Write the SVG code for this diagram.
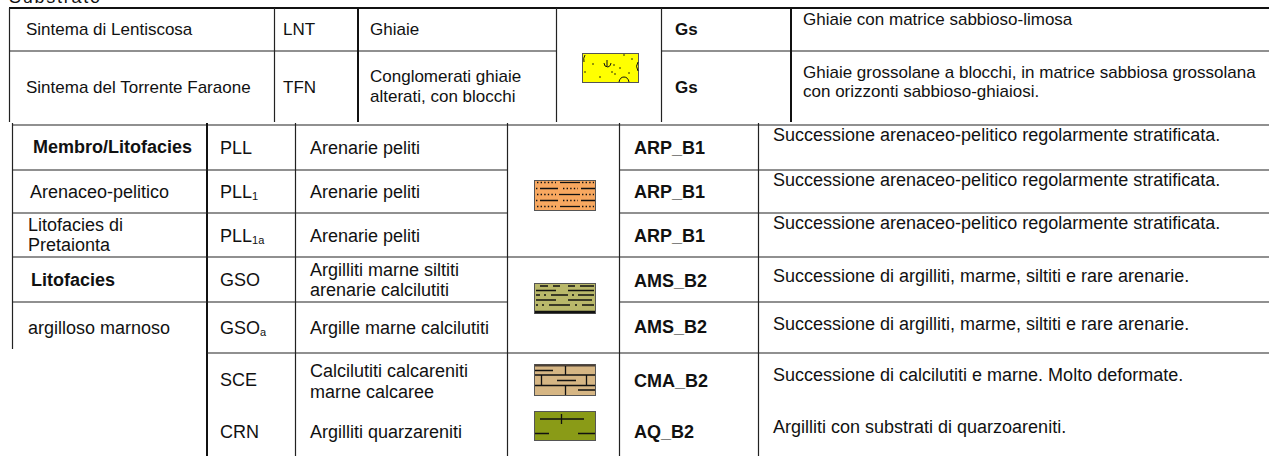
<svg xmlns="http://www.w3.org/2000/svg" width="1269" height="456" viewBox="0 0 1269 456">
<style>
.t{font-family:"Liberation Sans",Arial,sans-serif;font-size:18px;fill:#111}
.s{font-size:17px}
.b{font-weight:bold}
.ln{stroke:#222;stroke-width:1.2;fill:none}
.th{stroke:#111;stroke-width:2;fill:none}
.sw{stroke:#555;stroke-width:1}
.pk{stroke:#111;fill:none}
</style>
<rect width="1269" height="456" fill="#fff"/>
<text class="t" x="9" y="3" font-size="20" textLength="91" lengthAdjust="spacing">Substrato</text>

<g id="grid">
  <!-- top table -->
  <line class="th" x1="9" y1="8" x2="1269" y2="8"/>
  <line class="ln" x1="9" y1="51" x2="556" y2="51"/>
  <line class="ln" x1="661" y1="51" x2="1269" y2="51" stroke-width="1.6"/>
  <line class="ln" x1="9.5" y1="8" x2="9.5" y2="122"/>
  <line class="ln" x1="274.5" y1="8" x2="274.5" y2="122"/>
  <line class="th" x1="358" y1="8" x2="358" y2="122"/>
  <line class="ln" x1="556.5" y1="8" x2="556.5" y2="122"/>
  <line class="ln" x1="661.5" y1="8" x2="661.5" y2="122"/>
  <line class="th" x1="791" y1="8" x2="791" y2="122"/>
  <!-- bottom table -->
  <line class="ln" x1="12" y1="125" x2="1269" y2="125" stroke-width="1.5"/>
  <line class="ln" x1="12.5" y1="123" x2="12.5" y2="349"/>
  <line class="th" x1="207" y1="123" x2="207" y2="456"/>
  <line class="ln" x1="295.5" y1="123" x2="295.5" y2="456"/>
  <line class="ln" x1="507.5" y1="123" x2="507.5" y2="456"/>
  <line class="ln" x1="619.5" y1="123" x2="619.5" y2="456"/>
  <line class="ln" x1="758.5" y1="123" x2="758.5" y2="456"/>
  <line class="ln" x1="12" y1="170" x2="507" y2="170" stroke-width="1.6"/>
  <line class="ln" x1="619" y1="170" x2="1269" y2="170" stroke-width="1.6"/>
  <line class="ln" x1="12" y1="213" x2="507" y2="213" stroke-width="1.6"/>
  <line class="ln" x1="619" y1="213" x2="1269" y2="213" stroke-width="1.6"/>
  <line class="ln" x1="12" y1="257" x2="1269" y2="257"/>
  <line class="ln" x1="12" y1="302" x2="507" y2="302"/>
  <line class="ln" x1="619" y1="302" x2="1269" y2="302"/>
  <line class="ln" x1="207" y1="353" x2="1269" y2="353"/>
</g>

<g id="row-LNT">
  <text class="t s" x="26" y="35">Sintema di Lentiscosa</text>
  <text class="t s" x="283" y="35">LNT</text>
  <text class="t s" x="370" y="35">Ghiaie</text>
  <text class="t s b" x="675" y="35">Gs</text>
  <text class="t s" x="803" y="25">Ghiaie con matrice sabbioso-limosa</text>
</g>
<g id="row-TFN">
  <text class="t s" x="26" y="93">Sintema del Torrente Faraone</text>
  <text class="t s" x="283" y="93">TFN</text>
  <text class="t s" x="370" y="82">Conglomerati ghiaie</text>
  <text class="t s" x="370" y="102">alterati, con blocchi</text>
  <text class="t s b" x="675" y="93">Gs</text>
  <text class="t s" x="803" y="78">Ghiaie grossolane a blocchi, in matrice sabbiosa grossolana</text>
  <text class="t s" x="803" y="97">con orizzonti sabbioso-ghiaiosi.</text>
</g>
<g id="swatch-Gs">
  <rect class="sw" x="582.5" y="53.5" width="56" height="29" fill="#ffff00"/>
  <g class="pk" stroke-width="1">
    <path d="M585,55 Q583,58 584,62"/>
    <path d="M607,60 L607,66 M604,63 Q604,67 608,67 Q611,66 611,63"/>
    <path d="M619,82 Q620,77 624,77 Q628,77 629,82"/>
    <path d="M638,62 Q635,66 638,71"/>
  </g>
  <g fill="#111">
    <circle cx="593" cy="64" r="0.8"/><circle cx="600" cy="77" r="0.8"/><circle cx="624" cy="55" r="0.8"/>
    <circle cx="620" cy="68" r="0.8"/><circle cx="612" cy="72" r="0.8"/><circle cx="615" cy="74" r="0.8"/>
    <circle cx="629" cy="73" r="0.8"/><circle cx="585" cy="72" r="0.8"/><circle cx="614" cy="65" r="0.8"/>
    <circle cx="632" cy="59" r="0.8"/>
  </g>
</g>

<g id="row-PLL">
  <text class="t b" x="33" y="153">Membro/Litofacies</text>
  <text class="t" x="220" y="154">PLL</text>
  <text class="t" x="310" y="154">Arenarie peliti</text>
  <text class="t b" x="634" y="154">ARP_B1</text>
  <text class="t" x="773" y="141">Successione arenaceo-pelitico regolarmente stratificata.</text>
</g>
<g id="row-PLL1">
  <text class="t" x="30" y="198">Arenaceo-pelitico</text>
  <text class="t" x="220" y="198">PLL<tspan font-size="11" dy="2">1</tspan></text>
  <text class="t" x="310" y="198">Arenarie peliti</text>
  <text class="t b" x="634" y="198">ARP_B1</text>
  <text class="t" x="773" y="186">Successione arenaceo-pelitico regolarmente stratificata.</text>
</g>
<g id="row-PLL1a">
  <text class="t" x="28" y="231">Litofacies di</text>
  <text class="t" x="28" y="251">Pretaionta</text>
  <text class="t" x="220" y="242">PLL<tspan font-size="11" dy="2">1a</tspan></text>
  <text class="t" x="310" y="242">Arenarie peliti</text>
  <text class="t b" x="634" y="242">ARP_B1</text>
  <text class="t" x="773" y="229">Successione arenaceo-pelitico regolarmente stratificata.</text>
</g>
<g id="swatch-ARP">
  <rect class="sw" x="534.5" y="180.5" width="61" height="30" fill="#f8a860"/>
  <g class="pk" stroke-width="1.3">
    <path d="M537,182.5 H556 M582,182.5 H594" stroke-dasharray="1.4 2.2"/>
    <path d="M560,182.5 H580"/>
    <path d="M540,188.5 H558 M581,188.5 H595"/>
    <path d="M563,188.5 H578 M536,188.5 H539" stroke-dasharray="1.4 2.2"/>
    <path d="M537,194.5 H556 M582,194.5 H594" stroke-dasharray="1.4 2.2"/>
    <path d="M559,194.5 H580"/>
    <path d="M540,200.5 H558 M581,200.5 H595"/>
    <path d="M563,200.5 H578 M536,200.5 H539" stroke-dasharray="1.4 2.2"/>
    <path d="M537,206.5 H556 M582,206.5 H594" stroke-dasharray="1.4 2.2"/>
    <path d="M560,206.5 H580"/>
  </g>
</g>

<g id="row-GSO">
  <text class="t b" x="31" y="286">Litofacies</text>
  <text class="t" x="220" y="286">GSO</text>
  <text class="t" x="310" y="276">Argilliti marne siltiti</text>
  <text class="t" x="310" y="296">arenarie calcilutiti</text>
  <text class="t b" x="634" y="287">AMS_B2</text>
  <text class="t" x="773" y="282">Successione di argilliti, marme, siltiti e rare arenarie.</text>
</g>
<g id="row-GSOa">
  <text class="t" x="28" y="334">argilloso marnoso</text>
  <text class="t" x="220" y="334">GSO<tspan font-size="11" dy="2">a</tspan></text>
  <text class="t" x="310" y="334">Argille marne calcilutiti</text>
  <text class="t b" x="634" y="333">AMS_B2</text>
  <text class="t" x="773" y="330">Successione di argilliti, marme, siltiti e rare arenarie.</text>
</g>
<g id="swatch-AMS">
  <rect class="sw" x="534.5" y="283.5" width="61" height="30" fill="#b9b86a"/>
  <g class="pk" stroke-width="1.3">
    <path d="M540,286 H548 M553,286 H560 M568,286 H575 M580,286 H594"/>
    <path d="M536,290.5 H556 M568,290.5 H594"/>
    <path d="M536,295 H540 M544,295 H546 M551,295 H568 M572,295 H574 M578,295 H594"/>
    <path d="M536,300 H556 M568,300 H592"/>
    <path d="M536,305 H538 M542,305 H544 M549,305 H570 M575,305 H577 M582,305 H594"/>
  </g>
  <path d="M535,312 H595" stroke="#111" stroke-width="2.5"/>
</g>

<g id="row-SCE">
  <text class="t" x="220" y="386">SCE</text>
  <text class="t" x="310" y="377">Calcilutiti calcareniti</text>
  <text class="t" x="310" y="398">marne calcaree</text>
  <text class="t b" x="634" y="387">CMA_B2</text>
  <text class="t" x="773" y="381">Successione di calcilutiti e marne. Molto deformate.</text>
</g>
<g id="swatch-CMA">
  <rect class="sw" x="534.5" y="364.5" width="61" height="31" fill="#d6b684" stroke="#333"/>
  <path d="M535,365.5 H595" stroke="#4a3f35" stroke-width="2"/>
  <g class="pk" stroke-width="1.3">
    <path d="M535,375 H595 M535,385.5 H595"/>
    <path d="M565.5,366 V375 M541.5,375 V385.5 M586.5,375 V385.5 M565.5,385.5 V395"/>
    <path d="M535,370.5 H553 M557,380.5 H576 M578,390 H595"/>
  </g>
</g>

<g id="row-CRN">
  <text class="t" x="220" y="438">CRN</text>
  <text class="t" x="310" y="438">Argilliti quarzareniti</text>
  <text class="t b" x="634" y="438">AQ_B2</text>
  <text class="t" x="773" y="433">Argilliti con substrati di quarzoareniti.</text>
</g>
<g id="swatch-AQ">
  <rect class="sw" x="534.5" y="411.5" width="61" height="29" fill="#8a9b17" stroke="#333"/>
  <g class="pk" stroke-width="1.3">
    <path d="M540,419 H584 M561.5,414 V424"/>
    <path d="M535,433.5 H549 M578,433.5 H595"/>
  </g>
</g>
</svg>
